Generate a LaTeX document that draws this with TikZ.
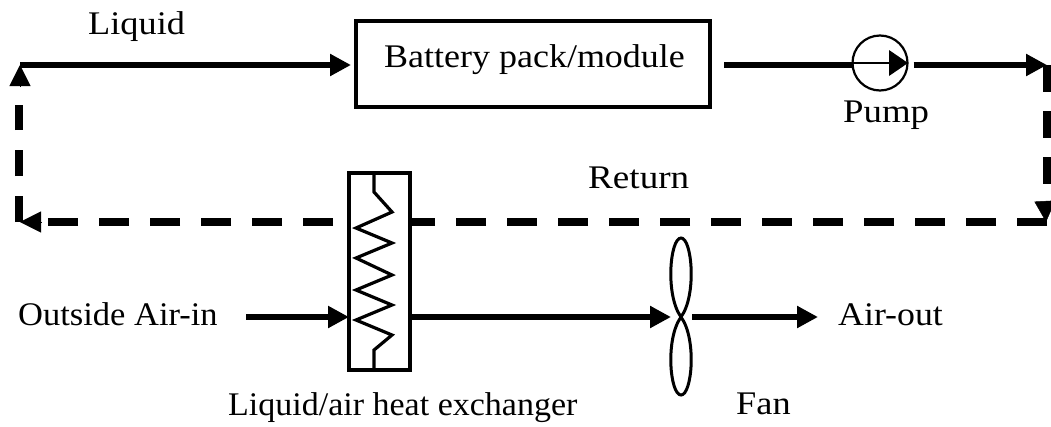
\documentclass[tikz,border=0pt]{standalone}
\usepackage{fontspec}
\usepackage{graphicx}
\setmainfont{Liberation Serif}
\usetikzlibrary{arrows.meta}
\newcommand{\stretched}[2]{\scalebox{#1}[1]{#2}}
\tikzset{
  x=1pt,y=-1pt,
  flow/.style={line width=6.5pt,-{Triangle[length=21pt,width=21pt]}},
  plainflow/.style={line width=6.5pt},
  stub/.style={line width=0.5pt,-{Triangle[length=21pt,width=21pt]}},
  retH/.style={line width=7.5pt,dash pattern=on 30pt off 21pt},
  retV/.style={line width=7.5pt,dash pattern=on 27pt off 19pt},
  boxed/.style={draw,line width=4pt,fill=white,inner sep=0pt,outer sep=0pt},
  coil/.style={line width=3.2pt,line join=miter},
  lab/.style={anchor=base west,inner sep=0pt,font=\fontsize{33}{36}\selectfont},
}
\begin{document}
\begin{tikzpicture}
\useasboundingbox (0,0) rectangle (1051,426);
% free ends and corners
\coordinate (tl) at (20,65);
\coordinate (tlbase) at (20,87);
\coordinate (tr) at (1047,65);
\coordinate (brH) at (1047,222);
\coordinate (brV) at (1047,184);
\coordinate (brbase) at (1045,203);
\coordinate (brtip) at (1046,222);
\coordinate (blH) at (48,222);
\coordinate (bltail) at (41,222);
\coordinate (bl) at (20,222);
\coordinate (blV) at (19,222);
\coordinate (blVend) at (19,105);
\coordinate (airin) at (246,317);
\coordinate (airout) at (818,317);
\coordinate (fanc) at (681,317);
% return line
\draw[retH] (brH) -- (blH);
\draw[retV] (tr) -- (brV);
\draw[retV,dash pattern=on 26pt off 20pt] (blV) -- (blVend);
\draw[stub] (brbase) -- (brtip);
\draw[stub] (bltail) -- (bl);
\draw[stub] (tlbase) -- (tl);
% boxes
\node[boxed,minimum width=354pt,minimum height=86pt] (battery) at (533,64) {};
\node[boxed,minimum width=61pt,minimum height=197pt] (hx) at (379.5,271.5) {};
\node[draw,circle,line width=2.2pt,minimum size=55pt,inner sep=0pt,outer sep=0pt] (pump) at (880,63) {};
% coil
\draw[coil] (hx.north -| 374,0) -- (374,192) -- (392,212) -- (356,228) -- (392,243) -- (356,258) -- (392,275) -- (356,290) -- (392,305) -- (356,320) -- (392,335) -- (374,350) -- (hx.south -| 374,0);
% fan
\draw[line width=3pt] (fanc) .. controls (665,295) and (670,238) .. (681,238) .. controls (692,238) and (697,295) .. (fanc);
\draw[line width=3pt] (fanc) .. controls (665,339) and (670,395) .. (681,395) .. controls (692,395) and (697,339) .. (fanc);
% flows
\draw[flow,shorten >=5pt] (tl) -- (battery.west |- tl);
\draw[plainflow,shorten <=14pt] (battery.east |- 0,65) -- (pump.west |- 0,65);
\draw[line width=1.5pt] (pump.west) -- (pump.east);
\fill (889,50) -- (908,63) -- (889,76) -- cycle;
\draw[flow,shorten <=6pt] (pump.east |- 0,65) -- (tr);
\draw[flow] (airin) -- (hx.west |- airin);
\draw[flow,shorten >=10pt] (hx.east |- airin) -- (fanc);
\draw[flow,shorten <=11pt] (fanc) -- (airout);
% labels
\node[lab] (tliquid) at (88,34) {\stretched{1.10}{Liquid}};
\node[lab] (tbat) at (384,67) {\stretched{1.09}{Battery pack/module}};
\node[lab] (tpump) at (843,122) {\stretched{1.115}{Pump}};
\node[lab] (treturn) at (588,188) {\stretched{1.125}{Return}};
\node[lab] (tout) at (18,325) {\stretched{1.045}{Outside Air-in}};
\node[lab] (tair) at (838,325) {\stretched{1.085}{Air-out}};
\node[lab] (thx) at (228,415) {\stretched{1.03}{Liquid/air heat exchanger}};
\node[lab] (tfan) at (736,414) {\stretched{1.10}{Fan}};
\end{tikzpicture}
\end{document}
